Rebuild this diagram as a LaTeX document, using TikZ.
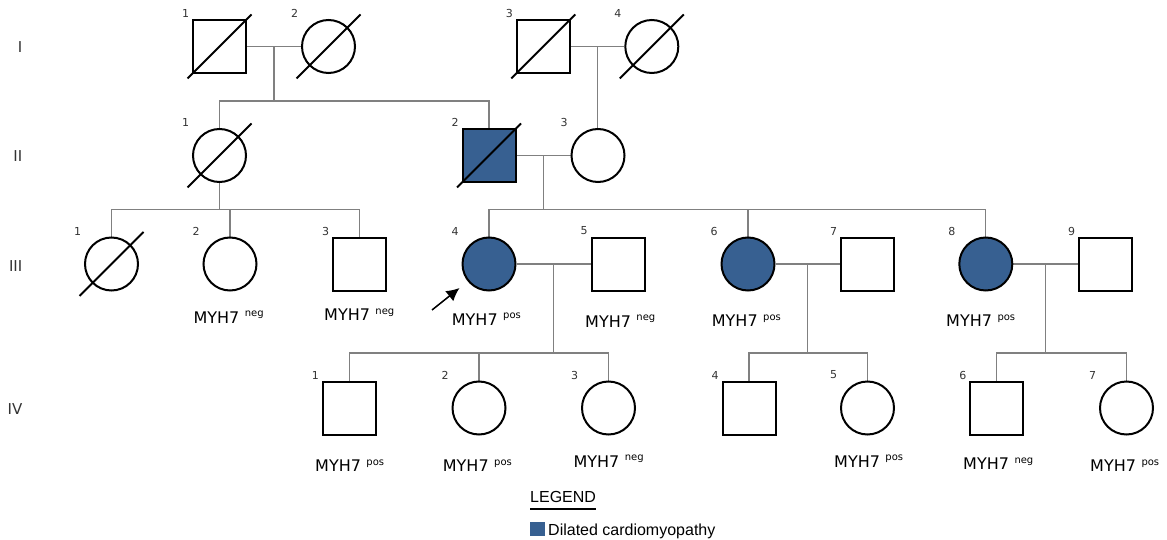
\documentclass[tikz,border=0pt]{standalone}
\usepackage{fontspec}
\setmainfont{DejaVu Sans}
\newfontfamily\legfont{Liberation Sans}
\usetikzlibrary{arrows.meta,calc,backgrounds}
\definecolor{dcm}{RGB}{55,96,145}
\definecolor{relgray}{RGB}{128,128,128}
\definecolor{numgray}{RGB}{51,51,51}
\newcommand\myh[1]{MYH7\hspace{5.5pt}\raisebox{6.5pt}{\fontsize{10}{10}\selectfont #1}}
\begin{document}
\begin{tikzpicture}[x=1pt,y=-1pt,
  male/.style={rectangle,draw=black,line width=2pt,minimum size=53pt,inner sep=0pt,fill=white},
  female/.style={circle,draw=black,line width=2pt,minimum size=53pt,inner sep=0pt,fill=white},
  aff/.style={fill=dcm},
  slash/.style={draw=black,line width=2pt},
  rel/.style={draw=relgray,line width=1.3pt},
  num/.style={font=\fontsize{11}{11}\selectfont,text=numgray,inner sep=0pt},
  gen/.style={font=\fontsize{15}{15}\selectfont,text=numgray,inner sep=0pt,anchor=east},
  geno/.style={font=\fontsize{16}{16}\selectfont,inner sep=0pt,anchor=base west},
  leg/.style={font=\legfont\fontsize{16}{16}\selectfont,inner sep=0pt,anchor=base west}]
\useasboundingbox (0,0) rectangle (1167,540);

% generation labels
\node[gen] (gI) at (22.5,47) {I};
\node[gen] (gII) at (22.5,156.5) {II};
\node[gen] (gIII) at (22.5,266) {III};
\node[gen] (gIV) at (22.5,409) {IV};

% individuals
\node[male] (I1) at (219.5,46.5) {};
\node[female] (I2) at (328.5,46.5) {};
\node[male] (I3) at (543.3,46.5) {};
\node[female] (I4) at (651.8,46.5) {};

\node[female] (II1) at (219.5,155.5) {};
\node[male,aff] (II2) at (489,155.5) {};
\node[female] (II3) at (598,155.5) {};

\node[female] (III1) at (111.5,264) {};
\node[female] (III2) at (230,264) {};
\node[male] (III3) at (359.5,264) {};
\node[female,aff] (III4) at (489,264) {};
\node[male] (III5) at (618,264) {};
\node[female,aff] (III6) at (748,264) {};
\node[male] (III7) at (867.5,264) {};
\node[female,aff] (III8) at (985.8,264) {};
\node[male] (III9) at (1105.5,264) {};

\node[male] (IV1) at (349.3,408) {};
\node[female] (IV2) at (479,408) {};
\node[female] (IV3) at (608.5,408) {};
\node[male] (IV4) at (749,408) {};
\node[female] (IV5) at (867.5,408) {};
\node[male] (IV6) at (996.8,408) {};
\node[female] (IV7) at (1126.5,408) {};

% deceased slashes
\foreach \p in {I1,I2,I3,I4,II1,II2,III1}{
  \draw[slash] ($(\p)+(-32,32)$) -- ($(\p)+(32,-32)$);
}

% numbers
\foreach \p/\n in {I1/1,I2/2,I3/3,I4/4,II1/1,II2/2,II3/3,
  III1/1,III2/2,III3/3,III4/4,III5/5,III6/6,III7/7,III8/8,III9/9,
  IV1/1,IV2/2,IV3/3,IV4/4,IV5/5,IV6/6,IV7/7}{
  \node[num] (n\p) at ($(\p)+(-34,-33)$) {\n};
}

% connectors
\begin{scope}[on background layer]
\coordinate (mI12) at ($(I1.east)!0.5!(I2.west)$);
\coordinate (mI34) at ($(I3.east)!0.5!(I4.west)$);
\coordinate (mII23) at ($(II2.east)!0.5!(II3.west)$);
\coordinate (mIII45) at ($(III4.east)!0.5!(III5.west)$);
\coordinate (mIII67) at ($(III6.east)!0.5!(III7.west)$);
\coordinate (mIII89) at ($(III8.east)!0.5!(III9.west)$);
\coordinate (sII) at ($(mI12)+(0,54.5)$);
\coordinate (sIIIl) at ($(II1)+(0,54)$);
\coordinate (sIIIr) at ($(mII23)+(0,54)$);
\coordinate (sIV1) at ($(mIII45)+(0,89)$);
\coordinate (sIV2) at ($(mIII67)+(0,89)$);
\coordinate (sIV3) at ($(mIII89)+(0,89)$);

\draw[rel] (I1.east) -- (I2.west);
\draw[rel] (mI12) -- (sII);
\draw[rel] (II1.north) |- (sII) -| (II2.north);
\draw[rel] (I3.east) -- (I4.west);
\draw[rel] (mI34) -- (mI34 |- II3.north);

\draw[rel] (II2.east) -- (II3.west);
\draw[rel] (mII23) -- (sIIIr);
\draw[rel] (III4.north) |- (sIIIr) -| (III8.north);
\draw[rel] (III6.north) -- (III6.north |- sIIIr);

\draw[rel] (II1.south) -- (sIIIl);
\draw[rel] (III1.north) |- (sIIIl) -| (III3.north);
\draw[rel] (III2.north) -- (III2.north |- sIIIl);

\draw[rel] (III4.east) -- (III5.west);
\draw[rel] (mIII45) -- (sIV1);
\draw[rel] (IV1.north) |- (sIV1) -| (IV3.north);
\draw[rel] (IV2.north) -- (IV2.north |- sIV1);

\draw[rel] (III6.east) -- (III7.west);
\draw[rel] (mIII67) -- (sIV2);
\draw[rel] (IV4.north) |- (sIV2) -| (IV5.north);

\draw[rel] (III8.east) -- (III9.west);
\draw[rel] (mIII89) -- (sIV3);
\draw[rel] (IV6.north) |- (sIV3) -| (IV7.north);
\end{scope}

% proband arrow
\coordinate (arrT) at (432,310);
\coordinate (arrH) at (459.5,288);
\draw[line width=1.5pt,-{Latex[length=13pt,width=13pt]}] (arrT) -- (arrH);

% genotype labels
\node[geno] (gIII2) at (193.3,323.3) {\myh{neg}};
\node[geno] (gIII3) at (324,320.7) {\myh{neg}};
\node[geno] (gIII4) at (451.7,325) {\myh{pos}};
\node[geno] (gIII5) at (585,327.3) {\myh{neg}};
\node[geno] (gIII6) at (711.7,326.7) {\myh{pos}};
\node[geno] (gIII8) at (946,326.7) {\myh{pos}};
\node[geno] (gIV1) at (315,471.7) {\myh{pos}};
\node[geno] (gIV2) at (442.7,471.7) {\myh{pos}};
\node[geno] (gIV3) at (573.3,467.3) {\myh{neg}};
\node[geno] (gIV5) at (834,467.3) {\myh{pos}};
\node[geno] (gIV6) at (963,469.5) {\myh{neg}};
\node[geno] (gIV7) at (1090,471.7) {\myh{pos}};

% legend
\node[leg] (legT) at (530,502) {LEGEND};
\draw[line width=1.5pt] (legT.base west |- 0,509) -- (legT.base east |- 0,509);
\node[draw=dcm,fill=dcm,line width=0pt,minimum width=14pt,minimum height=13pt,inner sep=0pt,anchor=north west] (legBox) at (530,522) {};
\node[leg] (legD) at (548,535) {Dilated cardiomyopathy};
\end{tikzpicture}
\end{document}
